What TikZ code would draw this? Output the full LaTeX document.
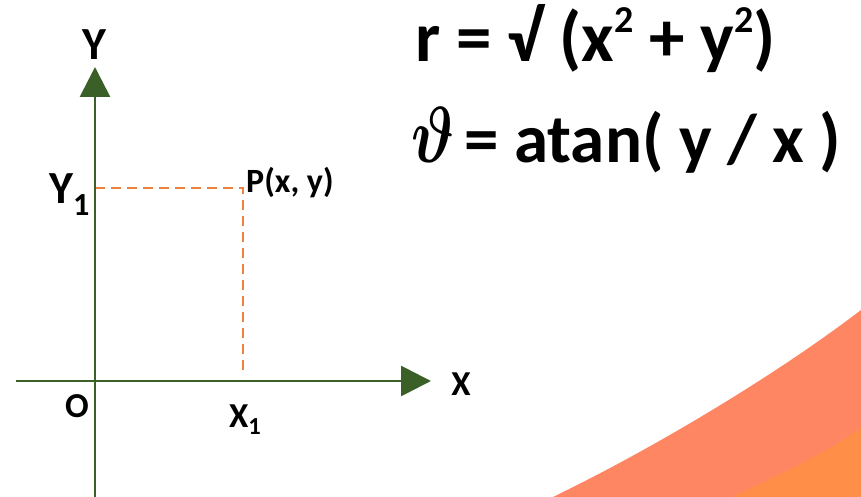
\documentclass[tikz,border=0pt]{standalone}
\usepackage{amsmath}
\usepackage{bm}
\usepackage{fontspec}
\setmainfont{Carlito}
\usetikzlibrary{arrows.meta,positioning}
\definecolor{axisgreen}{RGB}{58,96,40}
\definecolor{dashorange}{RGB}{238,128,64}
\definecolor{coral}{RGB}{255,134,98}
\definecolor{tangerine}{RGB}{255,142,72}
\tikzset{>=stealth}
\tikzset{
  axis/.style={draw=axisgreen,line width=2.8pt,-{Triangle[length=30pt,width=30pt]}},
  guide/.style={draw=dashorange,line width=2.8pt,dash pattern=on 10pt off 6pt},
  lbl/.style={font=\bfseries\fontsize{35}{35}\selectfont,inner sep=0pt},
  biglbl/.style={font=\bfseries\fontsize{46}{46}\selectfont,inner sep=0pt},
  ptlbl/.style={font=\bfseries\fontsize{34}{34}\selectfont,inner sep=0pt},
  formula/.style={font=\bfseries\fontsize{71}{71}\selectfont,inner sep=0pt,anchor=base west}
}
\newcommand{\thetabold}{\scalebox{2.5}[3.2]{$\bm{\vartheta}$}}
\newcommand{\sqtwo}{\raisebox{29pt}{\fontsize{38}{38}\selectfont 2}}
\begin{document}
\begin{tikzpicture}[x=1pt,y=-1pt]
\useasboundingbox (0,0) rectangle (861,497);
% orange corner
\fill[coral] (553,497) .. controls (660,445) and (780,372) .. (861,310) -- (861,497) -- cycle;
\fill[tangerine] (732,497) .. controls (780,474) and (830,452) .. (861,427) -- (861,497) -- cycle;
% axes
\coordinate (ybot) at (95,497);
\coordinate (ytip) at (95,67);
\coordinate (xleft) at (16,381);
\coordinate (xtip) at (431,381);
\coordinate (O) at (95,381);
\coordinate (P) at (243,188);
\coordinate (py) at (95,188);
\coordinate (px) at (243,374);
\draw[guide] (py) -- (P) -- (px);
\draw[axis] (ybot) -- (ytip);
\draw[axis] (xleft) -- (xtip);
% labels
\node[biglbl,anchor=base] (ylab) at (94,60) {Y};
\node[lbl,anchor=base] (xlab) at (461,395) {X};
\node[lbl,anchor=base] (olab) at (77,417) {O};
\node[lbl,anchor=base west] (x1lab) at (229,427) {X\textsubscript{1}};
\node[biglbl,anchor=base west] (y1lab) at (49,203) {Y\textsubscript{1}};
\node[ptlbl,anchor=base west] (plab) at (246,193) {P(x, y)};
% formulas
\node[formula] (rform) at (415,62) {r = √ (x\sqtwo{} + y\sqtwo)};
\node[formula,font=\bfseries\fontsize{69}{69}\selectfont] (tform) at (411,163) {\thetabold\hspace{10pt}= atan( y / x )};
\end{tikzpicture}
\end{document}
